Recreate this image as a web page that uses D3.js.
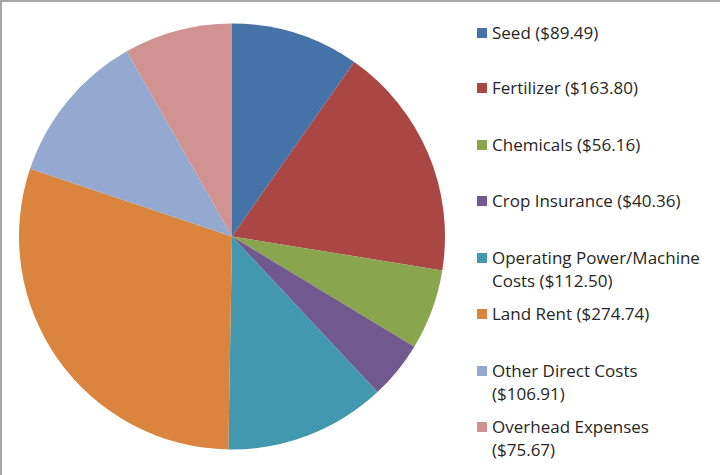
<!DOCTYPE html>
<html><head><meta charset="utf-8">
<script src="https://cdn.jsdelivr.net/npm/d3@7"></script>
<style>html,body{margin:0;padding:0;background:#fff;}svg{display:block;}</style>
</head><body>
<svg id="chart" width="720" height="475"></svg>
<script>
const categories = ["Seed","Fertilizer","Chemicals","Crop Insurance","Operating Power/Machine Costs","Land Rent","Other Direct Costs","Overhead Expenses"];
const values = [89.49,163.80,56.16,40.36,112.50,274.74,106.91,75.67];
const legendLines = [
  ["Seed ($89.49)"],
  ["Fertilizer ($163.80)"],
  ["Chemicals ($56.16)"],
  ["Crop Insurance ($40.36)"],
  ["Operating Power/Machine","Costs ($112.50)"],
  ["Land Rent ($274.74)"],
  ["Other Direct Costs","($106.91)"],
  ["Overhead Expenses","($75.67)"]
];
const colors = ["#4572A7","#AA4643","#89A54E","#71588F","#4198AF","#DB843D","#93A9CF","#D19392"];
const legendY = [33,88,145,201,258,314,371,427];

const svg = d3.select("#chart");
svg.append("rect").attr("width",720).attr("height",475).attr("fill","#fff");
svg.append("line").attr("x1",0).attr("x2",720).attr("y1",1).attr("y2",1).attr("stroke","#a6a6a6").attr("stroke-width",2);
svg.append("line").attr("x1",1).attr("x2",1).attr("y1",0).attr("y2",475).attr("stroke","#a6a6a6").attr("stroke-width",2);

const cx = 232, cy = 236.5, r = 213;
const color = d3.scaleOrdinal().domain(categories).range(colors);
const pie = d3.pie().sort(null).value(d => d.v);
const arc = d3.arc().innerRadius(0).outerRadius(r);
const data = categories.map((c,i)=>({c, v: values[i]}));
svg.append("g").attr("transform",`translate(${cx},${cy})`)
  .selectAll("path").data(pie(data)).join("path")
  .attr("d",arc).attr("fill",d=>color(d.data.c));

const lg = svg.append("g").attr("font-family","'Open Sans', sans-serif").attr("font-size",17).attr("fill","#262626");
categories.forEach((c,i)=>{
  const y = legendY[i];
  lg.append("rect").attr("x",477).attr("y",y-5).attr("width",10).attr("height",10).attr("fill",color(c));
  legendLines[i].forEach((t,j)=>{
    lg.append("text").attr("x",492).attr("y",y + j*23).attr("dy","0.35em")
      .attr("textLength", null).text(t);
  });
});
</script>
</body></html>
